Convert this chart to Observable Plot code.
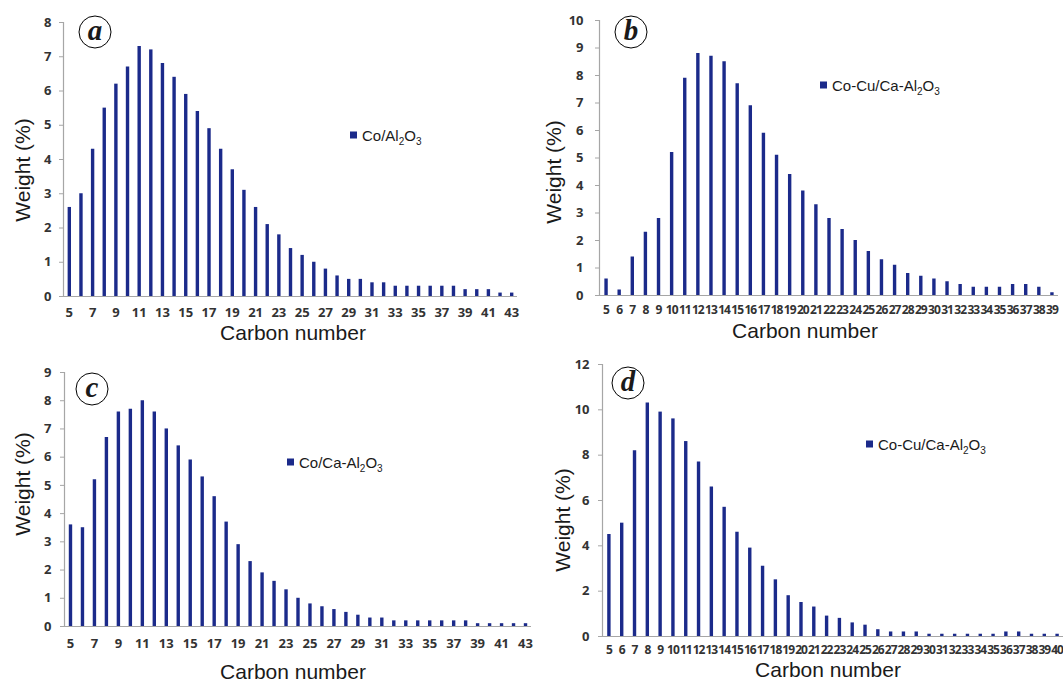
<!DOCTYPE html>
<html>
<head>
<meta charset="utf-8">
<script src="https://cdn.jsdelivr.net/npm/d3@7"></script>
<script src="https://cdn.jsdelivr.net/npm/@observablehq/plot@0.6"></script>
<style>
html,body{margin:0;padding:0;background:#fff;overflow:hidden}
#fig{position:relative;width:1063px;height:684px;background:#fff;font-family:"Liberation Sans",Arial,sans-serif;color:#1a1a1a}
.panel{position:absolute}
.panel svg{overflow:visible;background:transparent}
.panel svg text{font-weight:bold}
.ytitle{position:absolute;font-size:21px;transform:translate(-50%,-50%) rotate(-90deg);white-space:nowrap}
.xtitle{position:absolute;font-size:21px;transform:translate(-50%,-50%);white-space:nowrap}
.legend{position:absolute;font-size:15px;white-space:nowrap;display:flex;align-items:center;transform:translateY(-50%)}
.legend .sw{width:7px;height:7px;background:#1b2a8a;margin-right:5px}
.legend sub{font-size:10px;vertical-align:baseline;position:relative;top:4px}
.tag{position:absolute;width:31px;height:31px;border:1.6px solid #000;border-radius:50%;transform:translate(-50%,-50%);font-family:"Liberation Serif","DejaVu Serif",serif;font-weight:bold;font-style:italic;font-size:29px;display:flex;align-items:center;justify-content:center;line-height:1}
.tag span{position:relative;top:-2px}
.cond g[aria-label="x-axis tick label"] text{letter-spacing:-1px}
</style>
</head>
<body>
<div id="fig"></div>
<script>
// ---- data ----
const carbonA = [5,6,7,8,9,10,11,12,13,14,15,16,17,18,19,20,21,22,23,24,25,26,27,28,29,30,31,32,33,34,35,36,37,38,39,40,41,42,43];
const weightA = [2.6,3.0,4.3,5.5,6.2,6.7,7.3,7.2,6.8,6.4,5.9,5.4,4.9,4.3,3.7,3.1,2.6,2.1,1.8,1.4,1.2,1.0,0.8,0.6,0.5,0.5,0.4,0.4,0.3,0.3,0.3,0.3,0.3,0.3,0.2,0.2,0.2,0.1,0.1];

const carbonB = [5,6,7,8,9,10,11,12,13,14,15,16,17,18,19,20,21,22,23,24,25,26,27,28,29,30,31,32,33,34,35,36,37,38,39];
const weightB = [0.6,0.2,1.4,2.3,2.8,5.2,7.9,8.8,8.7,8.5,7.7,6.9,5.9,5.1,4.4,3.8,3.3,2.8,2.4,2.0,1.6,1.3,1.1,0.8,0.7,0.6,0.5,0.4,0.3,0.3,0.3,0.4,0.4,0.3,0.1];

const carbonC = [5,6,7,8,9,10,11,12,13,14,15,16,17,18,19,20,21,22,23,24,25,26,27,28,29,30,31,32,33,34,35,36,37,38,39,40,41,42,43];
const weightC = [3.6,3.5,5.2,6.7,7.6,7.7,8.0,7.6,7.0,6.4,5.9,5.3,4.6,3.7,2.9,2.3,1.9,1.6,1.3,1.0,0.8,0.7,0.6,0.5,0.4,0.3,0.3,0.2,0.2,0.2,0.2,0.2,0.2,0.2,0.1,0.1,0.1,0.1,0.1];

const carbonD = [5,6,7,8,9,10,11,12,13,14,15,16,17,18,19,20,21,22,23,24,25,26,27,28,29,30,31,32,33,34,35,36,37,38,39,40];
const weightD = [4.5,5.0,8.2,10.3,9.9,9.6,8.6,7.7,6.6,5.7,4.6,3.9,3.1,2.5,1.8,1.5,1.3,0.9,0.8,0.6,0.5,0.3,0.2,0.2,0.2,0.1,0.1,0.1,0.1,0.1,0.1,0.2,0.2,0.1,0.1,0.1];

const xTicksA = [5,7,9,11,13,15,17,19,21,23,25,27,29,31,33,35,37,39,41,43];
const xTicksB = carbonB;
const xTicksC = [5,7,9,11,13,15,17,19,21,23,25,27,29,31,33,35,37,39,41,43];
const xTicksD = carbonD;
const yTicksA = [0,1,2,3,4,5,6,7,8];
const yTicksB = [0,1,2,3,4,5,6,7,8,9,10];
const yTicksC = [0,1,2,3,4,5,6,7,8,9];
const yTicksD = [0,2,4,6,8,10,12];

const seriesNames = ["Co/Al<sub>2</sub>O<sub>3</sub>", "Co-Cu/Ca-Al<sub>2</sub>O<sub>3</sub>", "Co/Ca-Al<sub>2</sub>O<sub>3</sub>", "Co-Cu/Ca-Al<sub>2</sub>O<sub>3</sub>"];
const panelTags = ["a", "b", "c", "d"];
const xTitle = "Carbon number";
const yTitle = "Weight (%)";

// ---- layout ----
const BAR = "#1b2a8a";
const AXIS = "#a6a6a6";
const LABEL = "#333333";

const panels = [
  {carbon: carbonA, weight: weightA, xTicks: xTicksA, yTicks: yTicksA, left: 0, top: 0, width: 530, height: 320,
   mL: 63, mR: 13, mT: 22, mB: 24, xPad: 11, yPad: 8, xFont: 13, cond: false,
   yT: [23, 170], xT: [293, 333], lg: [350, 135], tag: [95, 32]},
  {carbon: carbonB, weight: weightB, xTicks: xTicksB, yTicks: yTicksB, left: 530, top: 0, width: 533, height: 320,
   mL: 69, mR: 5, mT: 20, mB: 25, xPad: 10, yPad: 12, xFont: 12, cond: true,
   yT: [554, 172], xT: [805, 331], lg: [820, 85], tag: [631, 32]},
  {carbon: carbonC, weight: weightC, xTicks: xTicksC, yTicks: yTicksC, left: 0, top: 340, width: 540, height: 310,
   mL: 64, mR: 9, mT: 32, mB: 24, xPad: 12, yPad: 9, xFont: 13, cond: false,
   yT: [23, 484], xT: [293, 672], lg: [287, 462], tag: [92, 389]},
  {carbon: carbonD, weight: weightD, xTicks: xTicksD, yTicks: yTicksD, left: 530, top: 340, width: 533, height: 310,
   mL: 72, mR: 0, mT: 24, mB: 14, xPad: 9, yPad: 9, xFont: 12, cond: true,
   yT: [563, 520], xT: [828, 670], lg: [866, 444], tag: [628, 383]}
];

const fig = document.getElementById("fig");

panels.forEach((p, i) => {
  const data = p.carbon.map((c, j) => ({c, w: p.weight[j]}));
  const xDomain = [p.carbon[0] - 0.5, p.carbon[p.carbon.length - 1] + 0.5];
  const yDomain = [p.yTicks[0], p.yTicks[p.yTicks.length - 1]];
  const chart = Plot.plot({
    width: p.width,
    height: p.height,
    marginLeft: p.mL,
    marginRight: p.mR,
    marginTop: p.mT,
    marginBottom: p.mB,
    className: p.cond ? "cond" : "norm",
    style: {fontFamily: "'Open Sans', 'Liberation Sans', sans-serif", fontWeight: "bold", fontSize: "13px", background: "transparent", overflow: "visible"},
    x: {domain: xDomain, label: null},
    y: {domain: yDomain, label: null},
    marks: [
      Plot.ruleX(data, {x: "c", y: "w", stroke: BAR, strokeWidth: 3.4}),
      Plot.ruleY([0], {stroke: AXIS, strokeWidth: 1.2}),
      Plot.ruleX([xDomain[0]], {stroke: AXIS, strokeWidth: 1.2}),
      Plot.axisX({ticks: p.xTicks, tickSize: 0, tickPadding: p.xPad, tickFormat: d => String(d), fill: LABEL, fontSize: p.xFont, fontWeight: "bold", label: null}),
      Plot.axisY({ticks: p.yTicks, tickSize: 4, tickPadding: p.yPad, tickFormat: d => String(d), stroke: AXIS, fill: LABEL, fontSize: 13, fontWeight: "bold", label: null})
    ]
  });
  const holder = document.createElement("div");
  holder.className = "panel";
  holder.style.left = p.left + "px";
  holder.style.top = p.top + "px";
  holder.appendChild(chart);
  fig.appendChild(holder);

  const yt = document.createElement("div");
  yt.className = "ytitle";
  yt.style.left = p.yT[0] + "px";
  yt.style.top = p.yT[1] + "px";
  yt.textContent = yTitle;
  fig.appendChild(yt);

  const xt = document.createElement("div");
  xt.className = "xtitle";
  xt.style.left = p.xT[0] + "px";
  xt.style.top = p.xT[1] + "px";
  xt.textContent = xTitle;
  fig.appendChild(xt);

  const lg = document.createElement("div");
  lg.className = "legend";
  lg.style.left = p.lg[0] + "px";
  lg.style.top = p.lg[1] + "px";
  lg.innerHTML = '<div class="sw"></div><span>' + seriesNames[i] + '</span>';
  fig.appendChild(lg);

  const tg = document.createElement("div");
  tg.className = "tag";
  tg.style.left = p.tag[0] + "px";
  tg.style.top = p.tag[1] + "px";
  tg.innerHTML = "<span>" + panelTags[i] + "</span>";
  fig.appendChild(tg);
});
</script>
</body>
</html>
